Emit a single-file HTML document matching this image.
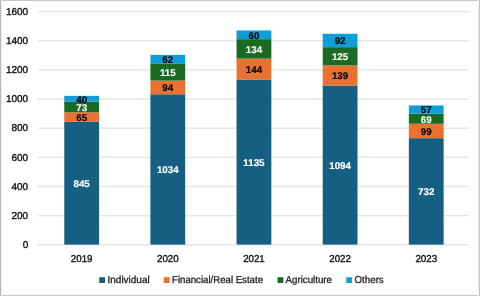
<!DOCTYPE html><html><head><meta charset="utf-8"><style>html,body{margin:0;padding:0;background:#fff;}svg{display:block;will-change:transform;}text{font-family:"Liberation Sans",sans-serif;text-rendering:geometricPrecision;}</style></head><body>
<svg width="480" height="296" viewBox="0 0 480 296">
<rect x="0" y="0" width="480" height="296" fill="#fff"/>
<rect x="38" y="244.05" width="431" height="1.5" fill="#e8e6e2"/>
<text x="28.2" y="248.05" font-size="10.0" text-anchor="end" fill="#161616" stroke="#161616" stroke-width="0.38">0</text>
<rect x="38" y="214.89" width="431" height="1.5" fill="#e8e6e2"/>
<text x="28.2" y="218.89" font-size="10.0" text-anchor="end" fill="#161616" stroke="#161616" stroke-width="0.38">200</text>
<rect x="38" y="185.74" width="431" height="1.5" fill="#e8e6e2"/>
<text x="28.2" y="189.74" font-size="10.0" text-anchor="end" fill="#161616" stroke="#161616" stroke-width="0.38">400</text>
<rect x="38" y="156.58" width="431" height="1.5" fill="#e8e6e2"/>
<text x="28.2" y="160.58" font-size="10.0" text-anchor="end" fill="#161616" stroke="#161616" stroke-width="0.38">600</text>
<rect x="38" y="127.42" width="431" height="1.5" fill="#e8e6e2"/>
<text x="28.2" y="131.43" font-size="10.0" text-anchor="end" fill="#161616" stroke="#161616" stroke-width="0.38">800</text>
<rect x="38" y="98.27" width="431" height="1.5" fill="#e8e6e2"/>
<text x="28.2" y="102.27" font-size="10.0" text-anchor="end" fill="#161616" stroke="#161616" stroke-width="0.38">1000</text>
<rect x="38" y="69.11" width="431" height="1.5" fill="#e8e6e2"/>
<text x="28.2" y="73.11" font-size="10.0" text-anchor="end" fill="#161616" stroke="#161616" stroke-width="0.38">1200</text>
<rect x="38" y="39.96" width="431" height="1.5" fill="#e8e6e2"/>
<text x="28.2" y="43.96" font-size="10.0" text-anchor="end" fill="#161616" stroke="#161616" stroke-width="0.38">1400</text>
<rect x="38" y="10.80" width="431" height="1.5" fill="#e8e6e2"/>
<text x="28.2" y="14.80" font-size="10.0" text-anchor="end" fill="#161616" stroke="#161616" stroke-width="0.38">1600</text>
<rect x="64.25" y="121.74" width="34.8" height="122.86" fill="#156082"/>
<rect x="64.25" y="112.29" width="34.8" height="9.45" fill="#E97132"/>
<rect x="64.25" y="101.67" width="34.8" height="10.61" fill="#196B24"/>
<rect x="64.25" y="95.86" width="34.8" height="5.82" fill="#0F9ED5"/>
<text x="81.65" y="187.02" font-size="9.8" font-weight="bold" text-anchor="middle" fill="#ffffff" stroke="#ffffff" stroke-width="0.15">845</text>
<text x="81.65" y="120.86" font-size="9.8" font-weight="bold" text-anchor="middle" fill="#000000" stroke="#000000" stroke-width="0.15">65</text>
<text x="81.65" y="110.83" font-size="9.8" font-weight="bold" text-anchor="middle" fill="#ffffff" stroke="#ffffff" stroke-width="0.15">73</text>
<text x="81.65" y="102.61" font-size="9.8" font-weight="bold" text-anchor="middle" fill="#000000" stroke="#000000" stroke-width="0.15">40</text>
<text x="81.65" y="261.75" font-size="10.0" text-anchor="middle" fill="#161616" stroke="#161616" stroke-width="0.38" textLength="21.6" lengthAdjust="spacingAndGlyphs">2019</text>
<rect x="150.40" y="94.26" width="34.8" height="150.34" fill="#156082"/>
<rect x="150.40" y="80.59" width="34.8" height="13.67" fill="#E97132"/>
<rect x="150.40" y="63.87" width="34.8" height="16.72" fill="#196B24"/>
<rect x="150.40" y="54.85" width="34.8" height="9.01" fill="#0F9ED5"/>
<text x="167.80" y="173.28" font-size="9.8" font-weight="bold" text-anchor="middle" fill="#ffffff" stroke="#ffffff" stroke-width="0.15">1034</text>
<text x="167.80" y="91.27" font-size="9.8" font-weight="bold" text-anchor="middle" fill="#000000" stroke="#000000" stroke-width="0.15">94</text>
<text x="167.80" y="76.08" font-size="9.8" font-weight="bold" text-anchor="middle" fill="#ffffff" stroke="#ffffff" stroke-width="0.15">115</text>
<text x="167.80" y="63.21" font-size="9.8" font-weight="bold" text-anchor="middle" fill="#000000" stroke="#000000" stroke-width="0.15">62</text>
<text x="167.80" y="261.75" font-size="10.0" text-anchor="middle" fill="#161616" stroke="#161616" stroke-width="0.38" textLength="21.6" lengthAdjust="spacingAndGlyphs">2020</text>
<rect x="236.55" y="79.57" width="34.8" height="165.03" fill="#156082"/>
<rect x="236.55" y="58.63" width="34.8" height="20.94" fill="#E97132"/>
<rect x="236.55" y="39.15" width="34.8" height="19.48" fill="#196B24"/>
<rect x="236.55" y="30.43" width="34.8" height="8.72" fill="#0F9ED5"/>
<text x="253.95" y="165.94" font-size="9.8" font-weight="bold" text-anchor="middle" fill="#ffffff" stroke="#ffffff" stroke-width="0.15">1135</text>
<text x="253.95" y="72.95" font-size="9.8" font-weight="bold" text-anchor="middle" fill="#000000" stroke="#000000" stroke-width="0.15">144</text>
<text x="253.95" y="52.74" font-size="9.8" font-weight="bold" text-anchor="middle" fill="#ffffff" stroke="#ffffff" stroke-width="0.15">134</text>
<text x="253.95" y="38.64" font-size="9.8" font-weight="bold" text-anchor="middle" fill="#000000" stroke="#000000" stroke-width="0.15">60</text>
<text x="253.95" y="261.75" font-size="10.0" text-anchor="middle" fill="#161616" stroke="#161616" stroke-width="0.38" textLength="21.6" lengthAdjust="spacingAndGlyphs">2021</text>
<rect x="322.70" y="85.53" width="34.8" height="159.07" fill="#156082"/>
<rect x="322.70" y="65.32" width="34.8" height="20.21" fill="#E97132"/>
<rect x="322.70" y="47.15" width="34.8" height="18.18" fill="#196B24"/>
<rect x="322.70" y="33.77" width="34.8" height="13.38" fill="#0F9ED5"/>
<text x="340.10" y="168.92" font-size="9.8" font-weight="bold" text-anchor="middle" fill="#ffffff" stroke="#ffffff" stroke-width="0.15">1094</text>
<text x="340.10" y="79.28" font-size="9.8" font-weight="bold" text-anchor="middle" fill="#000000" stroke="#000000" stroke-width="0.15">139</text>
<text x="340.10" y="60.08" font-size="9.8" font-weight="bold" text-anchor="middle" fill="#ffffff" stroke="#ffffff" stroke-width="0.15">125</text>
<text x="340.10" y="44.31" font-size="9.8" font-weight="bold" text-anchor="middle" fill="#000000" stroke="#000000" stroke-width="0.15">92</text>
<text x="340.10" y="261.75" font-size="10.0" text-anchor="middle" fill="#161616" stroke="#161616" stroke-width="0.38" textLength="21.6" lengthAdjust="spacingAndGlyphs">2022</text>
<rect x="408.85" y="138.17" width="34.8" height="106.43" fill="#156082"/>
<rect x="408.85" y="123.77" width="34.8" height="14.39" fill="#E97132"/>
<rect x="408.85" y="113.74" width="34.8" height="10.03" fill="#196B24"/>
<rect x="408.85" y="105.45" width="34.8" height="8.29" fill="#0F9ED5"/>
<text x="426.25" y="195.23" font-size="9.8" font-weight="bold" text-anchor="middle" fill="#ffffff" stroke="#ffffff" stroke-width="0.15">732</text>
<text x="426.25" y="134.82" font-size="9.8" font-weight="bold" text-anchor="middle" fill="#000000" stroke="#000000" stroke-width="0.15">99</text>
<text x="426.25" y="122.61" font-size="9.8" font-weight="bold" text-anchor="middle" fill="#ffffff" stroke="#ffffff" stroke-width="0.15">69</text>
<text x="426.25" y="113.45" font-size="9.8" font-weight="bold" text-anchor="middle" fill="#000000" stroke="#000000" stroke-width="0.15">57</text>
<text x="426.25" y="261.75" font-size="10.0" text-anchor="middle" fill="#161616" stroke="#161616" stroke-width="0.38" textLength="21.6" lengthAdjust="spacingAndGlyphs">2023</text>
<rect x="99.2" y="277.2" width="5.8" height="5.8" fill="#156082"/>
<text x="107.5" y="283.0" font-size="10.0" fill="#222" stroke="#222" stroke-width="0.3" textLength="42.20" lengthAdjust="spacingAndGlyphs">Individual</text>
<rect x="163.75" y="277.2" width="5.8" height="5.8" fill="#E97132"/>
<text x="172" y="283.0" font-size="10.0" fill="#222" stroke="#222" stroke-width="0.3" textLength="91.00" lengthAdjust="spacingAndGlyphs">Financial/Real Estate</text>
<rect x="277.5" y="277.2" width="5.8" height="5.8" fill="#196B24"/>
<text x="285.5" y="283.0" font-size="10.0" fill="#222" stroke="#222" stroke-width="0.3" textLength="46.50" lengthAdjust="spacingAndGlyphs">Agriculture</text>
<rect x="346.25" y="277.2" width="5.8" height="5.8" fill="#0F9ED5"/>
<text x="354.5" y="283.0" font-size="10.0" fill="#222" stroke="#222" stroke-width="0.3" textLength="29.25" lengthAdjust="spacingAndGlyphs">Others</text>
<rect x="0" y="0" width="480" height="1" fill="#c6c6c6"/>
<rect x="0" y="295" width="480" height="1" fill="#c6c6c6"/>
<rect x="1" y="0" width="1" height="296" fill="#ececec"/>
<rect x="0" y="0" width="1" height="296" fill="#b8b8b8"/>
<rect x="478" y="0" width="1" height="296" fill="#eeeeee"/>
<rect x="479" y="0" width="1" height="296" fill="#c2c2c2"/>
</svg></body></html>
